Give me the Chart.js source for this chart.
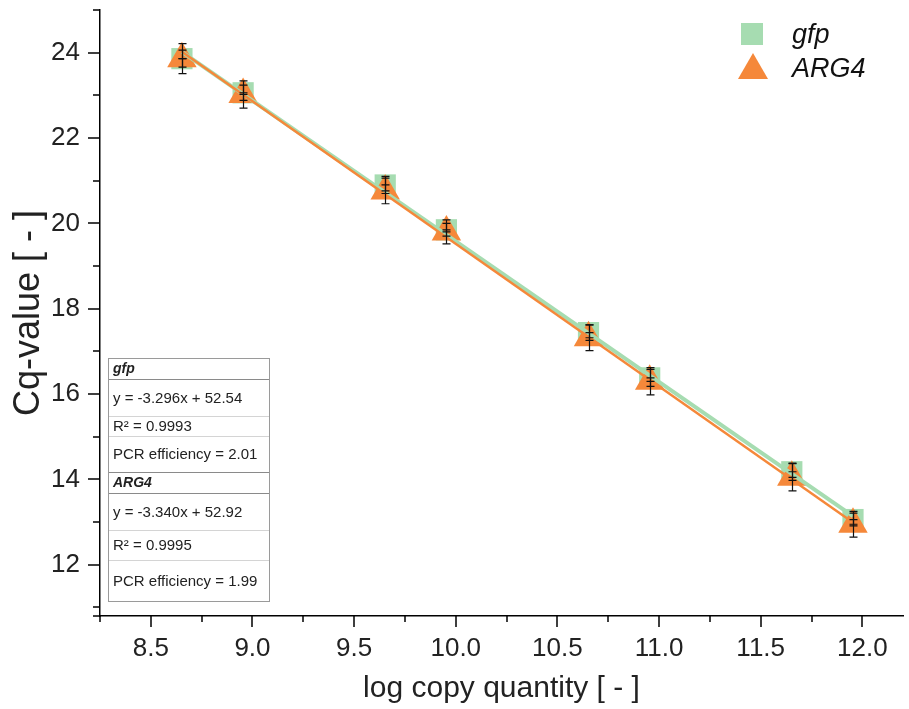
<!DOCTYPE html>
<html>
<head>
<meta charset="utf-8">
<script src="https://cdn.jsdelivr.net/npm/chart.js@4/dist/chart.umd.min.js"></script>
<style>
  html, body { margin: 0; padding: 0; background: #fff; }
  canvas { display: block; }
</style>
</head>
<body>
<canvas id="qpcrChart" width="909" height="709"></canvas>
<script>
// ---- data ----
const logCopies = [8.653, 8.954, 9.653, 9.954, 10.653, 10.954, 11.653, 11.954];
const gfpCq = [23.86, 23.06, 20.90, 19.85, 17.44, 16.38, 14.18, 13.06];
const arg4Cq = [23.86, 23.02, 20.76, 19.80, 17.32, 16.30, 14.05, 12.95];
const gfpErr = [0.20, 0.18, 0.20, 0.15, 0.18, 0.20, 0.20, 0.15];
const arg4Err = [0.35, 0.32, 0.30, 0.28, 0.30, 0.32, 0.32, 0.30];

// fitted lines, first and last standard
const fitX = [8.653, 11.954];
const gfpFit = [24.02, 13.14];
const arg4Fit = [24.02, 12.99];

const xTicks = [8.5, 9.0, 9.5, 10.0, 10.5, 11.0, 11.5, 12.0];
const xMinorTicks = [8.75, 9.25, 9.75, 10.25, 10.75, 11.25, 11.75];
const yTicks = [12, 14, 16, 18, 20, 22, 24];
const yMinorTicks = [11, 13, 15, 17, 19, 21, 23, 25];

const seriesNames = ['gfp', 'ARG4'];
const tableRows = [
  ['gfp', true],
  ['y = -3.296x + 52.54', false],
  ['R\u00B2 = 0.9993', false],
  ['PCR efficiency = 2.01', false],
  ['ARG4', true],
  ['y = -3.340x + 52.92', false],
  ['R\u00B2 = 0.9995', false],
  ['PCR efficiency = 1.99', false]
];

// ---- colours ----
const GREEN = '#a6dcb1';
const ORANGE = '#f5883a';
const FONT = '"Liberation Sans", Arial, sans-serif';

function pts(xs, ys) {
  return xs.map((x, i) => ({ x: x, y: ys[i] }));
}

// no extra room for label overflow, the plot box is fixed
function noPad(s) {
  s.paddingTop = 0; s.paddingBottom = 0;
  s.paddingLeft = 0; s.paddingRight = 0;
}

// error bars, ticks, legend and the fit table
const overlay = {
  id: 'overlay',
  afterDatasetsDraw(chart) {
    const ctx = chart.ctx;
    const xs = chart.scales.x, ys = chart.scales.y;
    ctx.save();
    ctx.strokeStyle = '#111';
    ctx.lineWidth = 1.2;
    [[gfpCq, gfpErr], [arg4Cq, arg4Err]].forEach(([vals, errs]) => {
      vals.forEach((v, i) => {
        const px = Math.round(xs.getPixelForValue(logCopies[i])) + 0.5;
        const top = ys.getPixelForValue(v + errs[i]);
        const bot = ys.getPixelForValue(v - errs[i]);
        const mid = ys.getPixelForValue(v);
        ctx.beginPath();
        ctx.moveTo(px, top); ctx.lineTo(px, bot);
        ctx.moveTo(px - 4, top); ctx.lineTo(px + 4, top);
        ctx.moveTo(px - 4, bot); ctx.lineTo(px + 4, bot);
        ctx.moveTo(px - 4, mid); ctx.lineTo(px + 4, mid);
        ctx.stroke();
      });
    });
    ctx.restore();
  },
  afterDraw(chart) {
    const ctx = chart.ctx;
    const xs = chart.scales.x, ys = chart.scales.y;
    const area = chart.chartArea;
    ctx.save();
    // tick marks
    ctx.strokeStyle = '#000';
    ctx.lineWidth = 1.5;
    ctx.beginPath();
    yTicks.forEach(v => {
      const py = Math.round(ys.getPixelForValue(v));
      ctx.moveTo(area.left - 12, py); ctx.lineTo(area.left, py);
    });
    yMinorTicks.forEach(v => {
      const py = Math.round(ys.getPixelForValue(v));
      ctx.moveTo(area.left - 7, py); ctx.lineTo(area.left, py);
    });
    xTicks.forEach(v => {
      const px = Math.round(xs.getPixelForValue(v));
      ctx.moveTo(px, area.bottom); ctx.lineTo(px, area.bottom + 11);
    });
    xMinorTicks.forEach(v => {
      const px = Math.round(xs.getPixelForValue(v));
      ctx.moveTo(px, area.bottom); ctx.lineTo(px, area.bottom + 6);
    });
    ctx.moveTo(area.left - 7, area.bottom); ctx.lineTo(area.left, area.bottom);
    ctx.moveTo(area.left, area.bottom); ctx.lineTo(area.left, area.bottom + 6);
    ctx.stroke();

    // legend
    ctx.fillStyle = GREEN;
    ctx.fillRect(741, 23, 22, 22);
    ctx.fillStyle = ORANGE;
    ctx.beginPath();
    ctx.moveTo(753, 53); ctx.lineTo(768, 79); ctx.lineTo(738, 79);
    ctx.closePath(); ctx.fill();
    ctx.fillStyle = '#111';
    ctx.font = 'italic 27px ' + FONT;
    ctx.textBaseline = 'alphabetic';
    ctx.textAlign = 'left';
    ctx.fillText(seriesNames[0], 792, 43);
    ctx.fillText(seriesNames[1], 792, 77);

    // fit table
    const tl = 108, tr = 269;
    const edges = [358, 379, 416, 436, 472, 493, 530, 560, 601];
    ctx.fillStyle = '#fff';
    ctx.fillRect(tl, edges[0], tr - tl, edges[8] - edges[0]);
    ctx.lineWidth = 1;
    for (let i = 1; i < edges.length - 1; i++) {
      const strong = tableRows[i][1] || tableRows[i - 1][1];
      ctx.strokeStyle = strong ? '#8a8a8a' : '#d4d4d4';
      ctx.beginPath();
      ctx.moveTo(tl, edges[i] + 0.5); ctx.lineTo(tr, edges[i] + 0.5);
      ctx.stroke();
    }
    ctx.strokeStyle = '#9a9a9a';
    ctx.strokeRect(tl + 0.5, edges[0] + 0.5, tr - tl, edges[8] - edges[0]);
    ctx.textBaseline = 'middle';
    ctx.fillStyle = '#222';
    tableRows.forEach((row, i) => {
      ctx.font = (row[1] ? 'italic bold 14px ' : '15px ') + FONT;
      ctx.fillText(row[0], tl + 5, (edges[i] + edges[i + 1]) / 2 + 1);
    });
    ctx.restore();
  }
};

new Chart(document.getElementById('qpcrChart'), {
  type: 'scatter',
  data: {
    datasets: [
      {
        label: 'gfp fit', type: 'line', data: pts(fitX, gfpFit),
        borderColor: GREEN, borderWidth: 4, pointRadius: 0, order: 2
      },
      {
        label: 'ARG4 fit', type: 'line', data: pts(fitX, arg4Fit),
        borderColor: ORANGE, borderWidth: 2.5, pointRadius: 0, order: 1
      },
      {
        label: seriesNames[0], data: pts(logCopies, gfpCq),
        pointStyle: 'rect', pointRadius: 15, backgroundColor: GREEN,
        borderWidth: 0, order: 4
      },
      {
        label: seriesNames[1], data: pts(logCopies, arg4Cq),
        pointStyle: 'triangle', pointRadius: 17, backgroundColor: ORANGE,
        borderWidth: 0, order: 3
      }
    ]
  },
  options: {
    responsive: false,
    animation: false,
    layout: { autoPadding: false, padding: { top: 10, right: 6, left: 0, bottom: 0 } },
    plugins: { legend: { display: false }, tooltip: { enabled: false } },
    scales: {
      x: {
        type: 'linear', min: 8.25, max: 12.2,
        afterFit: s => { s.height = 93; noPad(s); },
        afterBuildTicks: s => { s.ticks = xTicks.map(v => ({ value: v })); },
        grid: { display: false, drawTicks: false },
        border: { display: true, color: '#000', width: 1.5 },
        ticks: {
          padding: 17, color: '#222',
          font: { family: FONT, size: 26 },
          callback: v => v.toFixed(1)
        },
        title: {
          display: true, text: 'log copy quantity [ - ]', color: '#222',
          font: { family: FONT, size: 30 }, padding: { top: 0, bottom: 2 }
        }
      },
      y: {
        type: 'linear', min: 10.8, max: 25,
        afterFit: s => { s.width = 100; noPad(s); },
        afterBuildTicks: s => { s.ticks = yTicks.map(v => ({ value: v })); },
        grid: { display: false, drawTicks: false },
        border: { display: true, color: '#000', width: 1.5 },
        ticks: {
          padding: 20, color: '#222',
          font: { family: FONT, size: 26 }
        },
        title: {
          display: true, text: 'Cq-value [ - ]', color: '#222',
          font: { family: FONT, size: 36 }, padding: { top: 7, bottom: 0 }
        }
      }
    }
  },
  plugins: [overlay]
});
</script>
</body>
</html>
